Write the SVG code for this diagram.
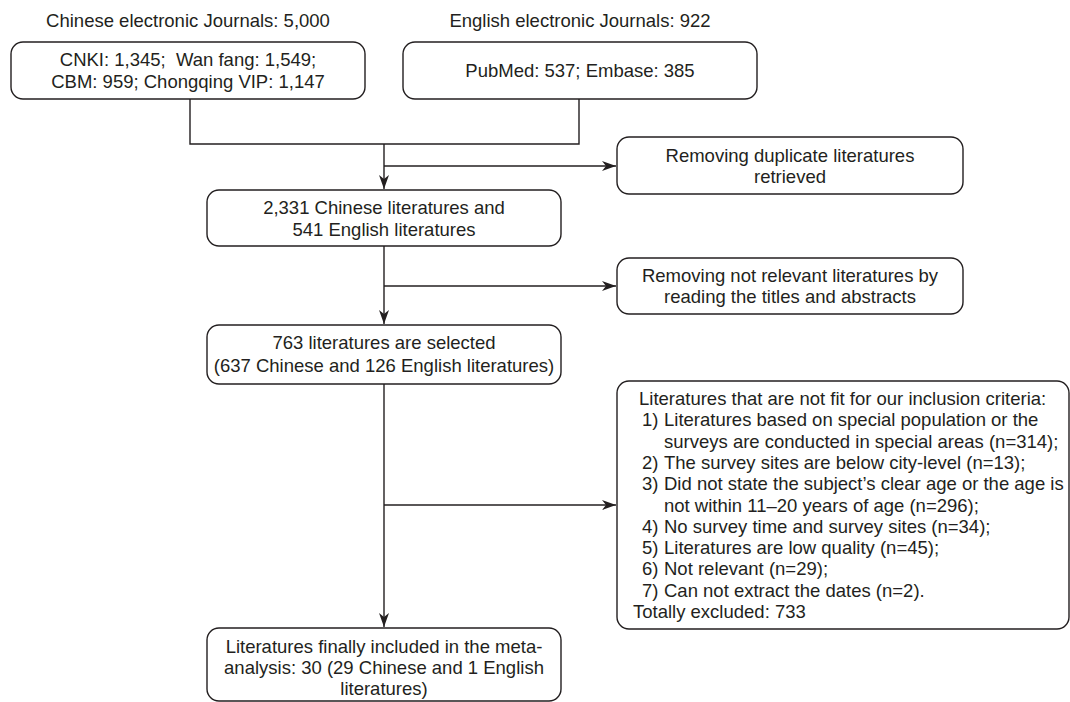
<svg xmlns="http://www.w3.org/2000/svg" width="1070" height="702" viewBox="0 0 1070 702">
<defs>
<style>
text{font-family:"Liberation Sans",Arial,sans-serif;font-size:18.5px;fill:#231f20}
.c{text-anchor:middle}
.box{fill:#fff;stroke:#231f20;stroke-width:1.4}
.ln{fill:none;stroke:#231f20;stroke-width:1.4}
</style>
<marker id="ah" markerUnits="userSpaceOnUse" markerWidth="16" markerHeight="12" viewBox="-14 -6 16 12" refX="0" refY="0" orient="auto">
<path d="M0,0 L-14,-5 L-10,0 L-14,5 Z" fill="#231f20"/>
</marker>
</defs>
<rect width="1070" height="702" fill="#fff"/>
<g id="connectors">
<path class="ln" d="M190,99 V144 H579 V99"/>
<path class="ln" d="M384,144 V189" marker-end="url(#ah)"/>
<path class="ln" d="M384,166 H616" marker-end="url(#ah)"/>
<path class="ln" d="M384,246 V324" marker-end="url(#ah)"/>
<path class="ln" d="M384,286 H616" marker-end="url(#ah)"/>
<path class="ln" d="M384,384 V627" marker-end="url(#ah)"/>
<path class="ln" d="M384,505 H616" marker-end="url(#ah)"/>
</g>
<g id="title-chinese"><text class="c" x="188" y="27">Chinese electronic Journals: 5,000</text></g>
<g id="title-english"><text class="c" x="580" y="27">English electronic Journals: 922</text></g>
<g id="box-chinese">
<rect class="box" x="11" y="42" width="354" height="57" rx="12"/>
<text class="c" x="188" y="66" xml:space="preserve">CNKI: 1,345;  Wan fang: 1,549;</text>
<text class="c" x="188" y="88">CBM: 959; Chongqing VIP: 1,147</text>
</g>
<g id="box-english">
<rect class="box" x="403" y="42" width="354" height="57" rx="12"/>
<text class="c" x="580" y="77">PubMed: 537; Embase: 385</text>
</g>
<g id="box-duplicates">
<rect class="box" x="617" y="137" width="346" height="57" rx="12"/>
<text class="c" x="790" y="162">Removing duplicate literatures</text>
<text class="c" x="790" y="183">retrieved</text>
</g>
<g id="box-2331">
<rect class="box" x="207" y="190" width="354" height="56" rx="12"/>
<text class="c" x="384" y="214">2,331 Chinese literatures and</text>
<text class="c" x="384" y="236">541 English literatures</text>
</g>
<g id="box-notrelevant">
<rect class="box" x="617" y="258" width="346" height="56" rx="12"/>
<text class="c" x="790" y="282">Removing not relevant literatures by</text>
<text class="c" x="790" y="303">reading the titles and abstracts</text>
</g>
<g id="box-763">
<rect class="box" x="207" y="325" width="354" height="59" rx="12"/>
<text class="c" x="384" y="349">763 literatures are selected</text>
<text class="c" x="384" y="372">(637 Chinese and 126 English literatures)</text>
</g>
<g id="box-excluded">
<rect class="box" x="617" y="381" width="452" height="248" rx="12"/>
<text x="639" y="405">Literatures that are not fit for our inclusion criteria:</text>
<text x="642" y="426.3">1)</text><text x="664" y="426.3">Literatures based on special population or the</text>
<text x="664" y="447.6">surveys are conducted in special areas (n=314);</text>
<text x="642" y="468.9">2)</text><text x="664" y="468.9">The survey sites are below city-level (n=13);</text>
<text x="642" y="490.2">3)</text><text x="664" y="490.2">Did not state the subject’s clear age or the age is</text>
<text x="664" y="511.5">not within 11–20 years of age (n=296);</text>
<text x="642" y="532.8">4)</text><text x="664" y="532.8">No survey time and survey sites (n=34);</text>
<text x="642" y="554.1">5)</text><text x="664" y="554.1">Literatures are low quality (n=45);</text>
<text x="642" y="575.4">6)</text><text x="664" y="575.4">Not relevant (n=29);</text>
<text x="642" y="596.7">7)</text><text x="664" y="596.7">Can not extract the dates (n=2).</text>
<text x="633" y="618">Totally excluded: 733</text>
</g>
<g id="box-final">
<rect class="box" x="207" y="628" width="354" height="73" rx="12"/>
<text class="c" x="384" y="653">Literatures finally included in the meta-</text>
<text class="c" x="384" y="674">analysis: 30 (29 Chinese and 1 English</text>
<text class="c" x="384" y="695">literatures)</text>
</g>
</svg>
